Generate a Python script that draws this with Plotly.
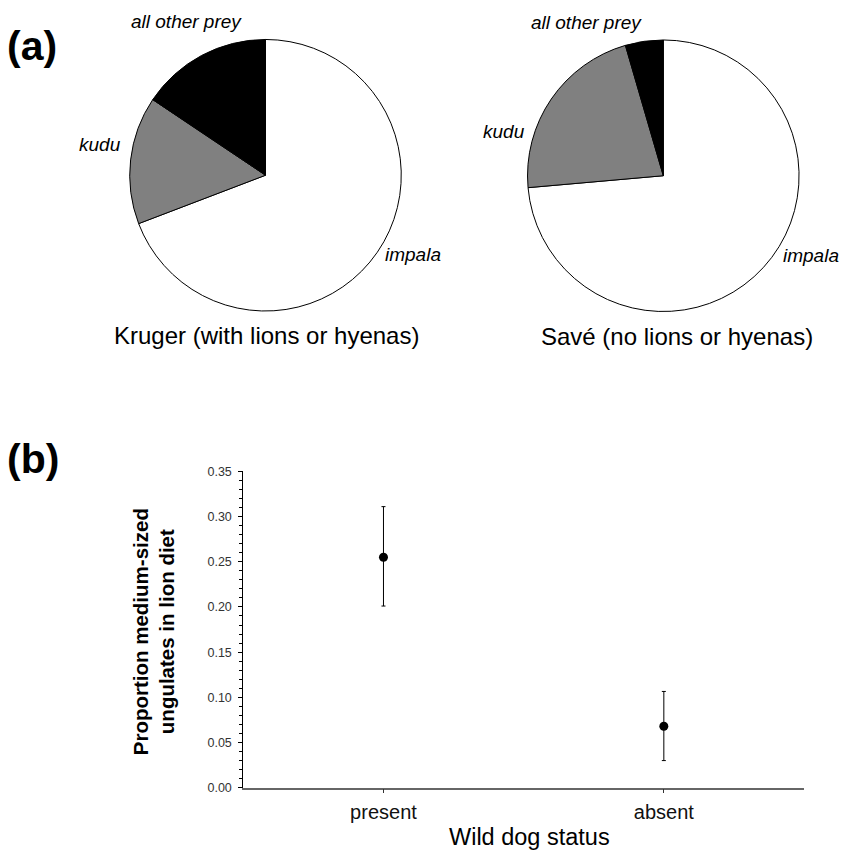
import plotly.graph_objects as go

W, H = 845, 867
FONT = "Liberation Sans, Arial, Helvetica, sans-serif"

# ---- data ----
prey_labels = ["impala", "kudu", "all other prey"]
kruger_values = [69.2, 15.2, 15.6]
save_values = [73.6, 21.9, 4.5]
pie_titles = ["Kruger (with lions or hyenas)", "Savé (no lions or hyenas)"]
slice_colors = ["#ffffff", "#808080", "#000000"]

dog_status = ["present", "absent"]
prop_medium = [0.255, 0.068]
err_upper = [0.311, 0.1065]
err_lower = [0.201, 0.030]

y_ticks = [0.00, 0.05, 0.10, 0.15, 0.20, 0.25, 0.30, 0.35]


def px_x(px):
    return px / W


def px_y(py):
    return 1 - py / H


fig = go.Figure()

# pies: centre (px), radius 138
pie_centres = [(265.5, 171.0), (663.3, 171.5)]
R = 138
for vals, (cx, cy) in zip([kruger_values, save_values], pie_centres):
    fig.add_trace(go.Pie(
        labels=prey_labels, values=vals, sort=False, direction="clockwise",
        rotation=0, textinfo="none", hoverinfo="label+percent",
        marker=dict(colors=slice_colors, line=dict(color="black", width=1)),
        domain=dict(x=[px_x(cx - R), px_x(cx + R)], y=[px_y(cy + R), px_y(cy - R)]),
        showlegend=False,
    ))

# scatter with error bars
fig.add_trace(go.Scatter(
    x=dog_status, y=prop_medium, mode="markers",
    marker=dict(color="black", size=9),
    error_y=dict(type="data", symmetric=False,
                 array=[u - m for u, m in zip(err_upper, prop_medium)],
                 arrayminus=[m - l for m, l in zip(prop_medium, err_lower)],
                 color="black", thickness=1, width=2),
    showlegend=False,
))

x0, x1 = 243.3, 804.0
y0, y1 = 793.5, 472.0
fig.update_layout(
    width=W, height=H, margin=dict(l=0, r=0, t=0, b=0),
    paper_bgcolor="white", plot_bgcolor="white",
    font=dict(family=FONT, color="black"),
    xaxis=dict(domain=[px_x(x0), px_x(x1)], type="category", range=[-0.5, 1.5],
               showline=True, linecolor="#666666", linewidth=1.5,
               ticks="outside", ticklen=4, tickcolor="#333333",
               tickfont=dict(size=20, color="#111111"), showgrid=False, zeroline=False,
               ticklabelstandoff=2, fixedrange=True),
    yaxis=dict(domain=[px_y(y0), px_y(y1)], range=[0, 0.35],
               tickvals=y_ticks, ticktext=[f"{v:.2f}" for v in y_ticks],
               showline=True, linecolor="black", linewidth=1,
               ticks="outside", ticklen=4, tickcolor="black",
               minor=dict(dtick=0.01, ticks="outside", ticklen=3, tickcolor="black"),
               tickfont=dict(size=12.5, color="#333333"), showgrid=False, zeroline=False,
               ticklabelstandoff=4, fixedrange=True),
)

ann = []
# panel labels
ann.append(dict(text="<b>(a)</b>", x=px_x(5), y=px_y(40), xanchor="left", yanchor="middle",
                font=dict(size=41)))
ann.append(dict(text="<b>(b)</b>", x=px_x(5), y=px_y(459), xanchor="left", yanchor="middle",
                font=dict(size=41)))
# pie slice labels
label_pos = [
    [(413, 252), (100, 140), (186, 15)],
    [(811, 253), (504, 127), (586, 16)],
]
for pos in label_pos:
    for lab, (lx, ly) in zip(prey_labels, pos):
        ann.append(dict(text=f"<i>{lab}</i>", x=px_x(lx), y=px_y(ly),
                        xanchor="center", yanchor="middle", font=dict(size=19)))
# pie titles
for t, (cx, cy) in zip(pie_titles, [(266, 334), (677, 335)]):
    ann.append(dict(text=t, x=px_x(cx), y=px_y(cy), xanchor="center", yanchor="middle",
                    font=dict(size=24)))
# axis titles
ann.append(dict(text="Wild dog status", x=px_x(529), y=px_y(844), xanchor="center",
                yanchor="middle", font=dict(size=23.5)))
ann.append(dict(text="<b>Proportion medium-sized<br>ungulates in lion diet</b>",
                x=px_x(153.5), y=px_y(635), xanchor="center", yanchor="middle",
                textangle=-90, font=dict(size=20.5)))
for a in ann:
    a.update(xref="paper", yref="paper", showarrow=False)
fig.update_layout(annotations=ann)

fig.write_html("out.html", config={"displayModeBar": False},
               post_script="document.documentElement.style.margin='0';"
                           "document.body.style.margin='0';"
                           "document.documentElement.style.overflow='hidden';"
                           "document.body.style.overflow='hidden';")
